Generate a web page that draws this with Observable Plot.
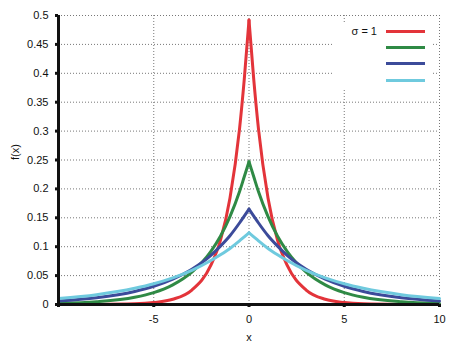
<!DOCTYPE html>
<html>
<head>
<meta charset="utf-8">
<script src="https://cdn.jsdelivr.net/npm/d3@7"></script>
<script src="https://cdn.jsdelivr.net/npm/@observablehq/plot@0.6"></script>
<style>
  html, body { margin: 0; padding: 0; background: #fff; }
  #wrap { position: relative; width: 466px; height: 358px; font-family: "Liberation Sans", Arial, sans-serif; }
  #legend { position: absolute; left: 334px; top: 22px; width: 97px; height: 66px; background: #fff; }
  #legend .row { position: absolute; left: 0; width: 97px; height: 16px; }
  #legend .lbl { position: absolute; right: 54px; top: 0; font-size: 11px; color: #111; line-height: 16px; white-space: nowrap; }
  #legend .sw { position: absolute; left: 52px; top: 7px; width: 39px; height: 3px; }
</style>
</head>
<body>
<div id="wrap"><div id="legend"></div></div>
<script>
// Series labels and colours
const seriesNames = ["σ = 1", "σ = 2", "σ = 3", "σ = 4"];
const legendLabels = ["σ = 1", "", "", ""];
const seriesColors = ["#e3343a", "#2f8a45", "#3c4b9a", "#6fcade"];

// x positions (left half, symmetric about 0)
const xLeft = [-10, -8, -6, -5, -4, -3, -2, -1.5, -1, -0.5, -0.25, 0];

// values at xLeft (curves are symmetric)
const ySigma1 = [0.0000, 0.0002, 0.0012, 0.0034, 0.009, 0.025, 0.068, 0.111, 0.184, 0.303, 0.389, 0.492];
const ySigma2 = [0.0017, 0.0046, 0.0124, 0.0205, 0.034, 0.056, 0.092, 0.118, 0.152, 0.195, 0.221, 0.247];
const ySigma3 = [0.0060, 0.0116, 0.0226, 0.0315, 0.044, 0.061, 0.085, 0.101, 0.119, 0.141, 0.153, 0.165];
const ySigma4 = [0.0103, 0.0170, 0.0280, 0.0358, 0.046, 0.059, 0.076, 0.086, 0.097, 0.110, 0.117, 0.124];
const seriesValues = [ySigma1, ySigma2, ySigma3, ySigma4];

const xTicks = [-10, -5, 0, 5, 10];
const xTickLabels = ["", "-5", "0", "5", "10"];
const yTicks = [0, 0.05, 0.1, 0.15, 0.2, 0.25, 0.3, 0.35, 0.4, 0.45, 0.5];
const yTickLabels = ["0", "0.05", "0.1", "0.15", "0.2", "0.25", "0.3", "0.35", "0.4", "0.45", "0.5"];
const xDomain = [-10, 10];
const yDomain = [0, 0.5];

const data = [];
seriesNames.forEach((name, i) => {
  const ys = seriesValues[i];
  xLeft.forEach((x, j) => data.push({x, y: ys[j], s: name, k: name + "L"}));
  for (let j = xLeft.length - 1; j >= 0; j--) {
    data.push({x: -xLeft[j] + 0, y: ys[j], s: name, k: name + "R"});
  }
});

const chart = Plot.plot({
  width: 466,
  height: 358,
  marginLeft: 58,
  marginRight: 27,
  marginTop: 15,
  marginBottom: 54,
  style: {fontFamily: "Liberation Sans, Arial, sans-serif", fontSize: "11px", color: "#111", background: "#fff", overflow: "visible"},
  x: {domain: xDomain},
  y: {domain: yDomain},
  color: {domain: seriesNames, range: seriesColors},
  marks: [
    Plot.gridX(xTicks, {stroke: "#777", strokeOpacity: 1, strokeDasharray: "1,2", strokeWidth: 1}),
    Plot.gridY(yTicks, {stroke: "#777", strokeOpacity: 1, strokeDasharray: "1,2", strokeWidth: 1}),
    Plot.line(data, {x: "x", y: "y", z: "k", stroke: "s", strokeWidth: 3, curve: "monotone-x"}),
    Plot.axisX(xTicks, {tickSize: 3, strokeWidth: 3, stroke: "#111", tickPadding: 8, tickFormat: (d, i) => xTickLabels[i], label: null, fontSize: 11}),
    Plot.axisY(yTicks, {tickSize: 3, strokeWidth: 3, stroke: "#111", tickPadding: 7, tickFormat: (d, i) => yTickLabels[i], label: null, fontSize: 11}),
    Plot.ruleX([xDomain[0]], {stroke: "#111", strokeWidth: 3, y1: yDomain[0], y2: yDomain[1]}),
    Plot.ruleY([yDomain[0]], {stroke: "#111", strokeWidth: 3}),
    Plot.text(["x"], {frameAnchor: "bottom", dy: 36, text: d => d, fontSize: 11, fill: "#111"}),
    Plot.text(["f(x)"], {frameAnchor: "left", dx: -43, rotate: -90, text: d => d, fontSize: 11, fill: "#111"})
  ]
});
document.getElementById("wrap").prepend(chart);

const legend = document.getElementById("legend");
seriesNames.forEach((name, i) => {
  const row = document.createElement("div");
  row.className = "row";
  row.style.top = (1 + i * 16.2) + "px";
  const lbl = document.createElement("div");
  lbl.className = "lbl";
  lbl.textContent = legendLabels[i];
  const sw = document.createElement("div");
  sw.className = "sw";
  sw.style.background = seriesColors[i];
  row.appendChild(lbl);
  row.appendChild(sw);
  legend.appendChild(row);
});
</script>
</body>
</html>
